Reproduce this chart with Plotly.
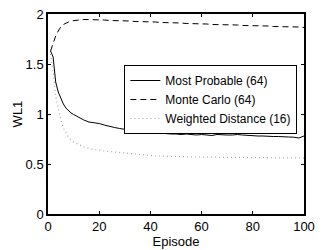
import plotly.graph_objects as go

episodes = [1, 2, 3, 4, 5, 6, 7, 8, 9, 10,
            12, 14, 16, 18, 20, 22, 24, 26, 28, 30,
            32, 34, 36, 38, 40, 42, 44, 46, 48, 50,
            52, 54, 56, 58, 60, 62, 64, 66, 68, 70,
            72, 74, 76, 78, 80, 82, 84, 86, 88, 90,
            92, 94, 96, 98, 100]

most_probable = [1.63, 1.57, 1.32, 1.22, 1.16, 1.10, 1.06, 1.03, 1.01, 0.995,
                 0.965, 0.94, 0.92, 0.915, 0.905, 0.89, 0.875, 0.865, 0.855, 0.845,
                 0.84, 0.83, 0.825, 0.82, 0.815, 0.81, 0.81, 0.805, 0.80, 0.80,
                 0.795, 0.80, 0.795, 0.79, 0.795, 0.79, 0.785, 0.795, 0.79, 0.79,
                 0.79, 0.795, 0.79, 0.785, 0.785, 0.78, 0.78, 0.775, 0.775, 0.775,
                 0.77, 0.77, 0.768, 0.76, 0.78]

monte_carlo = [1.63, 1.71, 1.78, 1.83, 1.87, 1.895, 1.91, 1.92, 1.93, 1.935,
               1.94, 1.945, 1.945, 1.94, 1.94, 1.94, 1.935, 1.935, 1.93, 1.93,
               1.93, 1.925, 1.925, 1.92, 1.92, 1.92, 1.915, 1.915, 1.91, 1.91,
               1.91, 1.905, 1.905, 1.90, 1.90, 1.90, 1.895, 1.895, 1.895, 1.89,
               1.89, 1.89, 1.885, 1.885, 1.885, 1.88, 1.88, 1.88, 1.875, 1.875,
               1.875, 1.87, 1.87, 1.87, 1.865]

weighted_distance = [1.60, 1.42, 1.18, 1.04, 0.94, 0.86, 0.81, 0.77, 0.74, 0.72,
                     0.695, 0.67, 0.655, 0.645, 0.635, 0.63, 0.625, 0.62, 0.61, 0.605,
                     0.60, 0.595, 0.59, 0.585, 0.585, 0.58, 0.58, 0.575, 0.575, 0.575,
                     0.572, 0.572, 0.57, 0.57, 0.57, 0.568, 0.568, 0.567, 0.567, 0.566,
                     0.566, 0.565, 0.565, 0.564, 0.564, 0.563, 0.563, 0.562, 0.562, 0.562,
                     0.561, 0.561, 0.560, 0.560, 0.560]

x_ticks = [0, 20, 40, 60, 80, 100]
y_ticks = [0, 0.5, 1, 1.5, 2]
y_tick_labels = ["0", "0.5", "1", "1.5", "2"]

font = "Liberation Sans, Arial, Helvetica, sans-serif"

fig = go.Figure()
fig.add_trace(go.Scatter(x=episodes, y=most_probable, mode="lines",
                         name="Most Probable (64)",
                         line=dict(color="black", width=1)))
fig.add_trace(go.Scatter(x=episodes, y=monte_carlo, mode="lines",
                         name="Monte Carlo (64)",
                         line=dict(color="black", width=1, dash="6px,4px")))
fig.add_trace(go.Scatter(x=episodes, y=weighted_distance, mode="lines",
                         name="Weighted Distance (16)",
                         line=dict(color="#a8a8a8", width=1.2, dash="1px,3px")))

axis_common = dict(showgrid=False, zeroline=False, showline=True,
                   linecolor="black", linewidth=1.5, mirror="ticks",
                   ticks="inside", ticklen=3, tickcolor="black", tickwidth=1,
                   ticklabeloverflow="allow",
                   tickfont=dict(family=font, size=13, color="black"))

fig.update_xaxes(range=[0, 100], tickvals=x_ticks,
                 title=dict(text="Episode", font=dict(family=font, size=13, color="black"),
                            standoff=0),
                 **axis_common)
fig.update_yaxes(range=[0, 2], tickvals=y_ticks, ticktext=y_tick_labels,
                 title=dict(text="WL1", font=dict(family=font, size=13, color="black"),
                            standoff=0),
                 **axis_common)

fig.update_layout(
    width=322, height=250,
    margin=dict(l=48, r=7, t=10, b=33),
    plot_bgcolor="white", paper_bgcolor="white",
    font=dict(family=font, size=13, color="black"),
    legend=dict(x=0.974, y=0.745, xanchor="right", yanchor="top",
                bgcolor="white", bordercolor="black", borderwidth=1,
                font=dict(family=font, size=12, color="black"),
                itemwidth=30, tracegroupgap=0),
)

fig.write_html("out.html", config={"displayModeBar": False},
               post_script="document.body.style.margin='0';")
